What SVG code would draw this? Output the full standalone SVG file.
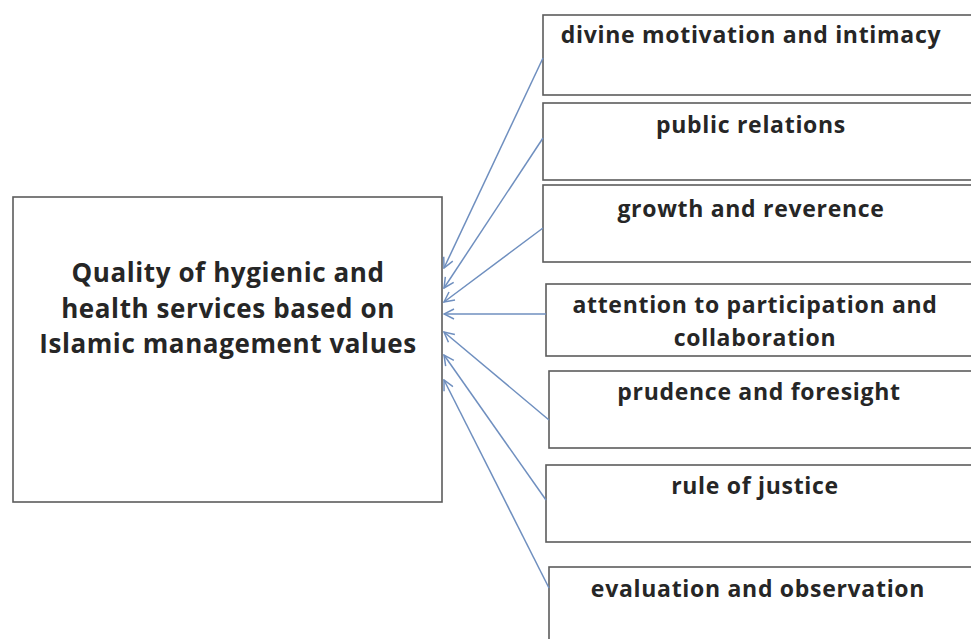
<svg xmlns="http://www.w3.org/2000/svg" width="971" height="639" viewBox="0 0 971 639">
  <style>
    .box { fill: #ffffff; stroke: #5c5c5c; stroke-width: 1.6; }
    .lbl { font-family: "Open Sans", "Liberation Sans", sans-serif; font-weight: bold; fill: #262626; text-anchor: middle; }
    .main { font-size: 26px; letter-spacing: 0.6px; }
    .side { font-size: 23px; letter-spacing: 0.7px; }
    .link { fill: none; stroke: #6f8fbf; stroke-width: 1.5; marker-end: url(#arrow); }
  </style>
  <defs>
    <marker id="arrow" viewBox="0 0 12 12" refX="11" refY="6" markerWidth="12" markerHeight="12" markerUnits="userSpaceOnUse" orient="auto">
      <path d="M1,1 L11,6 L1,11" fill="none" stroke="#6f8fbf" stroke-width="1.5"/>
    </marker>
  </defs>
  <rect width="971" height="639" fill="#ffffff"/>

  <g id="quality">
    <rect class="box" x="13" y="197" width="429" height="305"/>
    <text class="lbl main" x="228" y="282">Quality of hygienic and</text>
    <text class="lbl main" x="228" y="318">health services based on</text>
    <text class="lbl main" x="228" y="353">Islamic management values</text>
  </g>

  <g id="divine">
    <rect class="box" x="543" y="15" width="440" height="80"/>
    <text class="lbl side" x="751" y="43">divine motivation and intimacy</text>
  </g>
  <g id="public">
    <rect class="box" x="543" y="103" width="440" height="77"/>
    <text class="lbl side" x="751" y="133">public relations</text>
  </g>
  <g id="growth">
    <rect class="box" x="543" y="185" width="440" height="77"/>
    <text class="lbl side" x="751" y="217">growth and reverence</text>
  </g>
  <g id="participation">
    <rect class="box" x="546" y="284" width="440" height="72"/>
    <text class="lbl side" x="755" y="313">attention to participation and</text>
    <text class="lbl side" x="755" y="346">collaboration</text>
  </g>
  <g id="prudence">
    <rect class="box" x="549" y="371" width="440" height="77"/>
    <text class="lbl side" x="759" y="400">prudence and foresight</text>
  </g>
  <g id="justice">
    <rect class="box" x="546" y="465" width="440" height="77"/>
    <text class="lbl side" x="755" y="494">rule of justice</text>
  </g>
  <g id="evaluation">
    <rect class="box" x="549" y="567" width="440" height="90"/>
    <text class="lbl side" x="758" y="597">evaluation and observation</text>
  </g>

  <g id="connectors">
    <line class="link" x1="543" y1="58" x2="444" y2="268"/>
    <line class="link" x1="543" y1="138" x2="444" y2="288"/>
    <line class="link" x1="543" y1="228" x2="444" y2="302"/>
    <line class="link" x1="546" y1="314" x2="444" y2="314"/>
    <line class="link" x1="549" y1="420" x2="444" y2="332"/>
    <line class="link" x1="546" y1="500" x2="444" y2="355"/>
    <line class="link" x1="549" y1="588" x2="444" y2="380"/>
  </g>
</svg>
